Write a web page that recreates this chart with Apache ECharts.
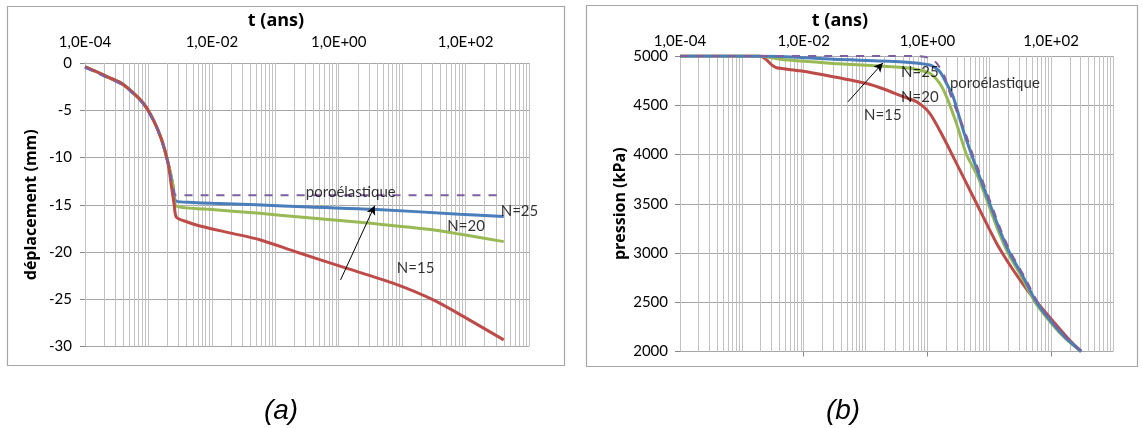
<!DOCTYPE html>
<html><head><meta charset="utf-8">
<script src="https://cdn.jsdelivr.net/npm/echarts@6/dist/echarts.min.js"></script>
<style>html,body{margin:0;padding:0;background:#fff}#c{width:1143px;height:428px}</style>
</head><body><div id="c"></div>
<script>
// ---------- DATA : chart (a) displacement (mm) vs t (years) ----------
const tPoroA = [1e-4, 1.5e-4, 2.2e-4, 3.6e-4, 5.1e-4, 8.3e-4, 1.19e-3, 1.61e-3, 2.05e-3, 2.46e-3, 2.71e-3, 1e-2, 1, 100, 400];
const dPoroA = [-0.5, -1.0, -1.55, -2.2, -2.95, -4.35, -6.1, -8.2, -10.7, -13.1, -14.0, -14.0, -14.0, -14.0, -14.0];
const t25A = [1e-4, 1.5e-4, 2.2e-4, 3.6e-4, 5.1e-4, 8.3e-4, 1.19e-3, 1.61e-3, 2.05e-3, 2.46e-3, 2.71e-3, 5e-3, 1e-2, 0.05, 0.35, 3.4, 80, 400];
const d25A = [-0.4, -0.9, -1.45, -2.08, -2.85, -4.26, -6.0, -8.1, -10.6, -13.1, -14.6, -14.75, -14.85, -15.0, -15.25, -15.47, -16.0, -16.25];
const t20A = [1e-4, 1.5e-4, 2.2e-4, 3.6e-4, 5.1e-4, 8.3e-4, 1.19e-3, 1.61e-3, 2.05e-3, 2.46e-3, 2.71e-3, 8e-3, 0.057, 0.118, 2.14, 30, 80, 400];
const d20A = [-0.4, -0.9, -1.45, -2.08, -2.85, -4.26, -6.0, -8.1, -10.6, -13.1, -15.1, -15.45, -15.9, -16.1, -16.85, -17.65, -18.1, -18.9];
const t15A = [1e-4, 1.5e-4, 2.2e-4, 3.6e-4, 5.1e-4, 8.3e-4, 1.19e-3, 1.61e-3, 2.05e-3, 2.3e-3, 2.55e-3, 2.75e-3, 4e-3, 6.5e-3, 0.02, 0.057, 0.216, 1.17, 7.16, 30.5, 102.6, 400];
const d15A = [-0.4, -0.9, -1.45, -2.08, -2.85, -4.26, -6.0, -8.1, -10.7, -13.0, -15.0, -16.3, -16.8, -17.25, -18.0, -18.7, -20.0, -21.6, -23.3, -25.05, -27.0, -29.3];

// ---------- DATA : chart (b) pressure (kPa) vs t (years) ----------
const tPoroB = [1e-4, 0.3, 0.7, 1.0, 1.4, 1.9, 2.3, 2.8, 3.95, 5.4, 7.4, 10.7, 15.5, 22.5, 37, 61, 112, 186, 320];
const pPoroB = [5000, 5000, 4998, 4985, 4930, 4790, 4625, 4480, 4250, 4000, 3770, 3500, 3230, 3000, 2760, 2500, 2280, 2130, 2000];
const t25B = [1e-4, 3e-3, 0.03, 0.36, 1.09, 1.59, 2.04, 2.6, 3.77, 5.16, 7.02, 10.2, 14.8, 21.4, 35.2, 57.9, 107, 177, 308];
const p25B = [5000, 4998, 4966, 4942, 4908, 4840, 4720, 4590, 4250, 4000, 3770, 3500, 3230, 3000, 2760, 2500, 2280, 2130, 2000];
const t20B = [1e-4, 1.96e-3, 4.13e-3, 0.0297, 0.36, 0.59, 1.09, 1.59, 2.04, 2.95, 4.28, 6.6, 9.6, 13.9, 20.1, 33.3, 55, 103, 172, 305];
const p20B = [5000, 5000, 4966, 4925, 4885, 4870, 4825, 4720, 4585, 4315, 4000, 3770, 3500, 3230, 3000, 2760, 2500, 2280, 2130, 2000];
const t15B = [1e-4, 1.96e-3, 2.52e-3, 3.03e-3, 3.65e-3, 8.68e-3, 0.0297, 0.104, 0.218, 0.358, 0.667, 1.09, 1.79, 2.95, 4.84, 7.94, 13.1, 24.2, 45.1, 84, 177, 300];
const p15B = [5000, 5000, 4960, 4910, 4880, 4850, 4790, 4720, 4655, 4600, 4535, 4418, 4180, 3910, 3640, 3370, 3100, 2830, 2590, 2385, 2150, 2000];

// ---------- axis ticks / annotations ----------
const topTickValues = [1e-4, 1e-2, 1, 100];
const bottomTickValuesB = [1e-2, 1, 100];
const labelsA = [['poroélastique', 1.55, -13.62], ['N=25', 708, -15.72], ['N=20', 102, -17.3], ['N=15', 16.3, -21.7]];
const arrowA = [[1.07, -22.95], [3.69, -15.1]];
const labelsB = [['N=25', 0.754, 4838], ['N=20', 0.754, 4584], ['poroélastique', 12.3, 4726], ['N=15', 0.19, 4402]];
const arrowB = [[0.0518, 4534], [0.19, 4929]];

// ---------- helpers ----------
const zip = (xs, ys) => xs.map((x, i) => [x, ys[i]]);
function fmtE(v) {
  const e = Math.round(Math.log10(v));
  if (e % 2 !== 0) return '';
  return '1,0E' + (e < 0 ? '-' : '+') + String(Math.abs(e)).padStart(2, '0');
}
const gridT = [];
for (let e = -4; e <= 2; e++) for (let k = 1; k <= 9; k++) gridT.push(k * Math.pow(10, e));
gridT.push(1000);

const C_BLUE = '#4A7EBB', C_RED = '#BE4B48', C_GREEN = '#98B954', C_PURPLE = '#7D60A0';
const LBL = {fontFamily: 'Lato', fontSize: 15, color: '#000'};

function gridSeries(i) {
  return {
    type: 'line', xAxisIndex: i, yAxisIndex: i, data: [], silent: true, z: 1,
    markLine: {
      z: 1, precision: 20,
      silent: true, symbol: ['none', 'none'], animation: false,
      label: {show: false},
      lineStyle: {color: '#c2c2c2', width: 1, type: 'solid'},
      emphasis: {disabled: true},
      data: gridT.map(v => ({xAxis: v}))
    }
  };
}
function curve(i, name, xs, ys, color, dashed) {
  return {
    type: 'line', name, xAxisIndex: i, yAxisIndex: i, data: zip(xs, ys),
    showSymbol: false, symbol: 'none', smooth: 0.25, z: dashed ? 4 : 3,
    lineStyle: dashed ? {color, width: 2, type: [8, 8]} : {color, width: 3},
    itemStyle: {color}
  };
}
function labelSeries(i, items) {
  return {
    type: 'scatter', xAxisIndex: i, yAxisIndex: i, z: 6, silent: true,
    symbolSize: 1, itemStyle: {color: 'rgba(0,0,0,0)'},
    data: items.map(d => [d[1], d[2], d[0]]),
    label: {show: true, position: 'inside', formatter: p => p.value[2], fontFamily: 'Lato', fontSize: 15, color: '#000'}
  };
}
function arrowSeries(i, a) {
  return {
    type: 'line', xAxisIndex: i, yAxisIndex: i, data: [], silent: true, z: 5,
    markLine: {
      z: 5, precision: 20,
      silent: true, animation: false, symbol: ['none', 'arrow'], symbolSize: [7, 9],
      label: {show: false}, lineStyle: {color: '#000', width: 1, type: 'solid'},
      data: [[{coord: a[0]}, {coord: a[1]}]]
    }
  };
}

const chart = echarts.init(document.getElementById('c'), null, {renderer: 'canvas'});
const yName = {fontFamily: 'Open Sans', fontWeight: 'bold', fontSize: 16, color: '#000'};
const plain = v => String(v);
chart.setOption({
  animation: false,
  backgroundColor: '#fff',
  grid: [
    {left: 85, top: 63, width: 444, height: 283.5},
    {left: 680, top: 56, width: 433, height: 295.5}
  ],
  xAxis: [
    {gridIndex: 0, type: 'log', logBase: 10, min: 1e-4, max: 1e3, position: 'top',
     axisLine: {show: false}, axisTick: {show: false}, splitLine: {show: false},
     axisLabel: Object.assign({customValues: topTickValues, formatter: fmtE, margin: 13}, LBL)},
    {gridIndex: 1, type: 'log', logBase: 10, min: 1e-4, max: 1e3, position: 'top',
     axisLine: {show: false}, axisTick: {show: false}, splitLine: {show: false},
     axisLabel: Object.assign({customValues: topTickValues, formatter: fmtE, margin: 7}, LBL)},
    {gridIndex: 1, type: 'log', logBase: 10, min: 1e-4, max: 1e3, position: 'bottom',
     axisLine: {show: false}, splitLine: {show: false}, axisLabel: {show: false},
     axisTick: {show: true, customValues: bottomTickValuesB, length: 5, lineStyle: {color: '#868686'}}}
  ],
  yAxis: [
    {gridIndex: 0, type: 'value', min: -30, max: 0, interval: 5,
     axisLine: {show: true, lineStyle: {color: '#868686'}},
     axisTick: {show: true, length: 5, lineStyle: {color: '#868686'}},
     splitLine: {lineStyle: {color: '#a6a6a6'}},
     axisLabel: Object.assign({margin: 13, formatter: plain}, LBL),
     name: 'déplacement (mm)', nameLocation: 'middle', nameGap: 46, nameTextStyle: yName},
    {gridIndex: 1, type: 'value', min: 2000, max: 5000, interval: 500,
     axisLine: {show: true, lineStyle: {color: '#868686'}},
     axisTick: {show: true, length: 5, lineStyle: {color: '#868686'}},
     splitLine: {lineStyle: {color: '#a6a6a6'}},
     axisLabel: Object.assign({margin: 12, formatter: plain}, LBL),
     name: 'pression (kPa)', nameLocation: 'middle', nameGap: 52, nameTextStyle: yName}
  ],
  series: [
    gridSeries(0),
    curve(0, 'N=25', t25A, d25A, C_BLUE),
    curve(0, 'N=20', t20A, d20A, C_GREEN),
    curve(0, 'N=15', t15A, d15A, C_RED),
    curve(0, 'poroélastique', tPoroA, dPoroA, C_PURPLE, true),
    arrowSeries(0, arrowA),
    labelSeries(0, labelsA),
    gridSeries(1),
    curve(1, 'N=15', t15B, p15B, C_RED),
    curve(1, 'N=20', t20B, p20B, C_GREEN),
    curve(1, 'N=25', t25B, p25B, C_BLUE),
    curve(1, 'poroélastique', tPoroB, pPoroB, C_PURPLE, true),
    arrowSeries(1, arrowB),
    labelSeries(1, labelsB)
  ],
  graphic: [
    {type: 'rect', shape: {x: 7.5, y: 6.5, width: 557, height: 359}, style: {fill: 'none', stroke: '#a6a6a6', lineWidth: 1.2}, z: 0},
    {type: 'rect', shape: {x: 586.5, y: 5.5, width: 551, height: 361}, style: {fill: 'none', stroke: '#a6a6a6', lineWidth: 1.2}, z: 0},
    {type: 'text', x: 276, y: 21, style: {text: 't (ans)', fontFamily: 'Open Sans', fontWeight: 'bold', fontSize: 18, fill: '#000', align: 'center', verticalAlign: 'middle'}},
    {type: 'text', x: 840, y: 21, style: {text: 't (ans)', fontFamily: 'Open Sans', fontWeight: 'bold', fontSize: 18, fill: '#000', align: 'center', verticalAlign: 'middle'}},
    {type: 'text', x: 281, y: 411, style: {text: '(a)', fontFamily: 'Liberation Sans', fontStyle: 'italic', fontSize: 28, fill: '#000', align: 'center', verticalAlign: 'middle'}},
    {type: 'text', x: 843, y: 411, style: {text: '(b)', fontFamily: 'Liberation Sans', fontStyle: 'italic', fontSize: 28, fill: '#000', align: 'center', verticalAlign: 'middle'}}
  ]
});
</script></body></html>
